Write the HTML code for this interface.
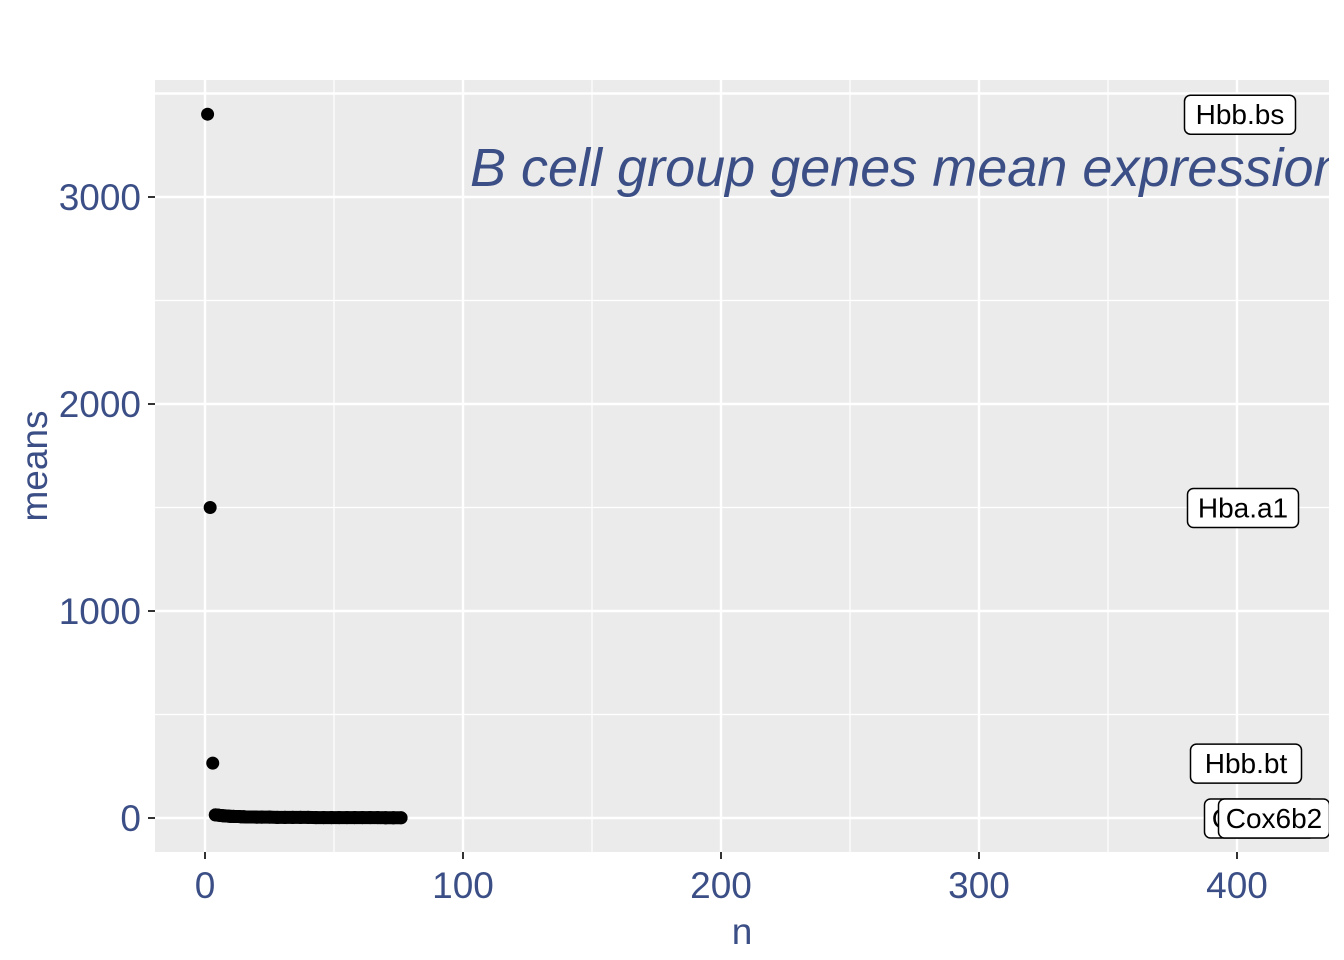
<!DOCTYPE html>
<html><head><meta charset="utf-8"><style>
body{margin:0;background:#fff;}
svg{display:block;font-family:"Liberation Sans",sans-serif;}
</style></head><body>
<svg id="chart" width="1344" height="960">
<rect x="155" y="80" width="1174" height="772" fill="#ebebeb"/>
<g id="grid"></g>
<g id="points"></g>
<text x="470" y="186" font-size="54" font-style="italic" fill="#3b4f86">B cell group genes mean expression</text>
<g id="labels"></g>
<g id="axes"></g>
<text x="742" y="944" font-size="37" fill="#3b4f86" text-anchor="middle">n</text>
<text transform="translate(47,466) rotate(-90)" font-size="37" fill="#3b4f86" text-anchor="middle">means</text>
</svg>
<script>
const xTicks=[0,100,200,300,400];
const yTicks=[0,1000,2000,3000];
const nVals=[1,2,3,4,5,6,7,8,9,10,11,12,13,14,15,16,17,18,19,20,22,25,28,31,34,37,40,43,46,49,52,55,58,61,64,67,70,73,76];
const meanVals=[3400,1500,265,15,14,12,11,10,9,8,8,7,7,6,6,5,5,5,5,4,4,4,3,3,3,3,3,2,2,2,2,2,2,2,2,2,1,1,1];
const labelTexts=["Hbb.bs","Hba.a1","Hbb.bt","Cox6b2","Cox6b2"];
const labelY=[3400,1500,265,0,0];
const labelX=[1240,1243,1246,1260,1274];
const X=v=>205+v*2.58, Y=v=>818-v*0.207;
const ns="http://www.w3.org/2000/svg";
function mk(tag,attrs,parent,txt){const e=document.createElementNS(ns,tag);for(const k in attrs)e.setAttribute(k,attrs[k]);if(txt!==undefined)e.textContent=txt;parent.appendChild(e);return e;}
const grid=document.getElementById('grid'),axes=document.getElementById('axes');
[50,150,250,350].forEach(v=>{const l=mk('line',{x1:X(v),x2:X(v),y1:80,y2:852,stroke:'#fff','stroke-width':1.2},grid);

});
[500,1500,2500].forEach(v=>{const l=mk('line',{x1:155,x2:1329,y1:Y(v),y2:Y(v),stroke:'#fff','stroke-width':1.2},grid);

});
[3500].forEach(v=>{const l=mk('line',{x1:155,x2:1329,y1:Y(v),y2:Y(v),stroke:'#fff','stroke-width':2.4},grid);

});
xTicks.forEach(v=>{const l=mk('line',{x1:X(v),x2:X(v),y1:80,y2:852,stroke:'#fff','stroke-width':2.4},grid);


const t=mk('line',{x1:X(v),x2:X(v),y1:852,y2:859,stroke:'#333','stroke-width':2},axes);


const tx=mk('text',{x:X(v),y:898,'font-size':37,fill:'#3b4f86','text-anchor':'middle'},axes,String(v));

});
yTicks.forEach(v=>{const l=mk('line',{x1:155,x2:1329,y1:Y(v),y2:Y(v),stroke:'#fff','stroke-width':2.4},grid);


const t=mk('line',{x1:148,x2:155,y1:Y(v),y2:Y(v),stroke:'#333','stroke-width':2},axes);


const tx=mk('text',{x:141,y:Y(v)+13,'font-size':37,fill:'#3b4f86','text-anchor':'end'},axes,String(v));

});
const pts=document.getElementById('points');
nVals.forEach((n,i)=>{const c=mk('circle',{cx:X(n),cy:Y(meanVals[i]),r:6.5,fill:'#000'},pts);

});
for(let i=3;i<nVals.length-1;i++){const l=mk('line',{x1:X(nVals[i]),x2:X(nVals[i+1]),y1:Y(meanVals[i]),y2:Y(meanVals[i+1]),stroke:'#000','stroke-width':13,'stroke-linecap':'round'},pts);

}
const lab=document.getElementById('labels');
labelTexts.forEach((s,i)=>{const g=mk('g',{},lab);


const w=s.length*15+21, cx=labelX[i], cy=Y(labelY[i]);
mk('rect',{x:cx-w/2,y:cy-19,width:w,height:39,rx:6,fill:'#fff',stroke:'#000','stroke-width':1.5},g);
mk('text',{x:cx,y:cy+10,'font-size':28,'text-anchor':'middle',fill:'#000'},g,s);});
const clip=mk('rect',{x:1329,y:0,width:15,height:960,fill:'#fff'},lab);


</script>
</body></html>
